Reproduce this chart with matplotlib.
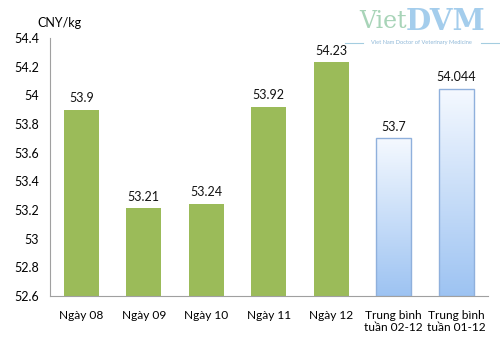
import numpy as np
import matplotlib.pyplot as plt
from matplotlib.colors import LinearSegmentedColormap
from matplotlib.lines import Line2D

plt.rcParams['font.family'] = ['Lato', 'DejaVu Sans']

categories = ['Ngày 08', 'Ngày 09', 'Ngày 10', 'Ngày 11', 'Ngày 12',
              'Trung bình\ntuần 02-12', 'Trung bình\ntuần 01-12']
values = [53.9, 53.21, 53.24, 53.92, 54.23, 53.7, 54.044]
labels = ['53.9', '53.21', '53.24', '53.92', '54.23', '53.7', '54.044']
yticks = [52.6, 52.8, 53, 53.2, 53.4, 53.6, 53.8, 54, 54.2, 54.4]
ytick_labels = ['52.6', '52.8', '53', '53.2', '53.4', '53.6', '53.8', '54', '54.2', '54.4']

fig = plt.figure(figsize=(5, 3.54), dpi=100)
ax = fig.add_axes([0.1, 0.164, 0.875, 0.729])

x = np.arange(len(categories))
green = '#9bbb59'
ymin, ymax = 52.6, 54.4
ax.bar(x[:5], [v - ymin for v in values[:5]], bottom=ymin, width=0.56, color=green)

cmap = LinearSegmentedColormap.from_list('bl', ['#9dc3f2', '#f5f9ff'])
grad = np.linspace(0, 1, 256).reshape(-1, 1)
for i in (5, 6):
    b = ax.bar(x[i], values[i] - ymin, bottom=ymin, width=0.56, facecolor='none',
               edgecolor='#8fb0dc', linewidth=1, zorder=3)[0]
    im = ax.imshow(grad, cmap=cmap, origin='lower', aspect='auto',
                   extent=[x[i] - 0.28, x[i] + 0.28, ymin, values[i]], zorder=2)
    im.set_clip_path(b)

for xi, v, lab in zip(x, values, labels):
    ax.text(xi, v + 0.04, lab, ha='center', va='bottom', fontsize=9, color='#111111')

ax.set_xlim(-0.5, 6.5)
ax.set_ylim(ymin, ymax)
ax.set_yticks(yticks)
ax.set_yticklabels(ytick_labels, fontsize=9)
ax.set_xticks(x)
ax.set_xticklabels(categories, fontsize=8.6, linespacing=1.15)
ax.tick_params(axis='x', length=0, pad=10)
ax.tick_params(axis='y', length=0, pad=8)
for s in ['top', 'right']:
    ax.spines[s].set_visible(False)
ax.spines['left'].set_color('#a0a0a0')
ax.spines['bottom'].set_color('#a0a0a0')

fig.text(0.075, 0.935, 'CNY/kg', fontsize=9, ha='left', va='center')
fig.text(0.814, 0.94, 'Viet', fontsize=17, color='#a8d4b8', ha='right', va='center',
         family='DejaVu Serif')
fig.text(0.812, 0.94, 'DVM', fontsize=21, color='#a4cdec', ha='left', va='center',
         family='DejaVu Serif', fontweight='bold')
fig.text(0.843, 0.879, 'Viet Nam Doctor of Veterinary Medicine', fontsize=4.1,
         color='#8fb8d8', ha='center', va='center')
fig.add_artist(Line2D([0.69, 0.725], [0.879, 0.879], color='#a4cde0', lw=0.8))
fig.add_artist(Line2D([0.962, 1.0], [0.879, 0.879], color='#a4cde0', lw=0.8))

fig.savefig('out.png', dpi=100)
